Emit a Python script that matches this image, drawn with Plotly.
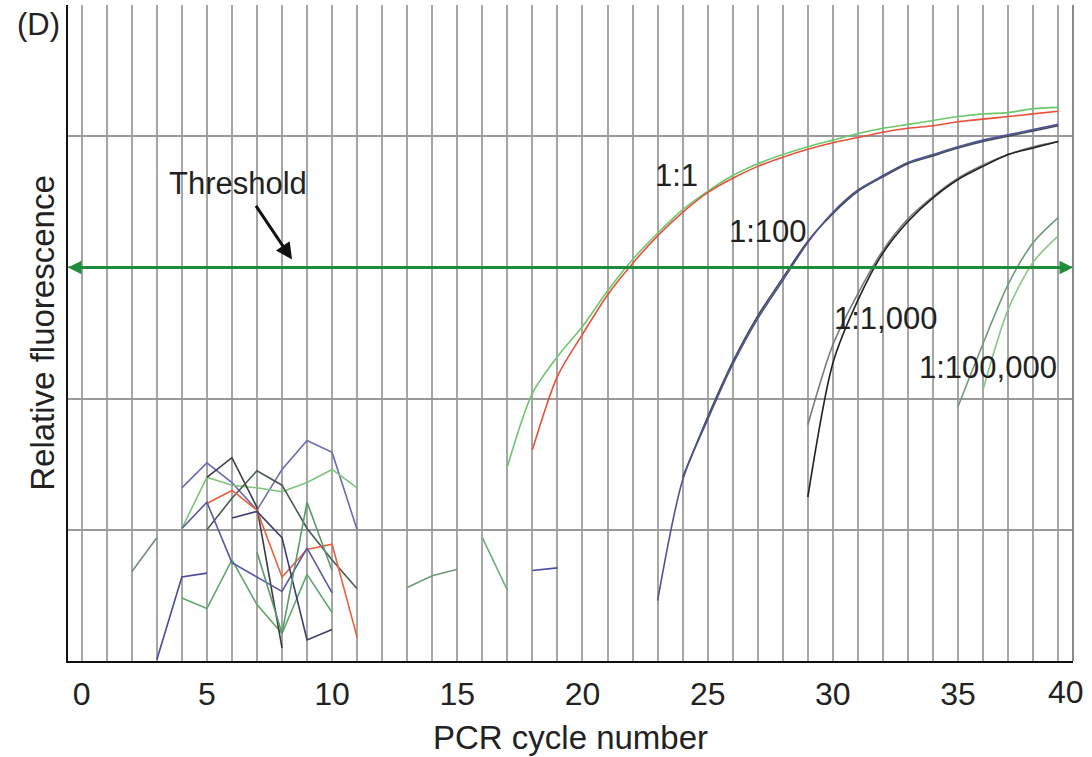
import plotly.graph_objects as go

# ---------------- data ----------------
cycles_11_g = list(range(17, 40))
rfu_11_green = [1.48, 2.04, 2.32, 2.55, 2.82, 3.06, 3.26, 3.44, 3.58, 3.70, 3.79, 3.86,
                3.92, 3.97, 4.02, 4.06, 4.09, 4.12, 4.15, 4.17, 4.18, 4.21, 4.22]
cycles_11_r = list(range(18, 40))
rfu_11_red = [1.61, 2.17, 2.49, 2.79, 3.03, 3.24, 3.42, 3.57, 3.68, 3.77, 3.84, 3.90,
              3.95, 3.99, 4.03, 4.06, 4.08, 4.11, 4.13, 4.15, 4.17, 4.19]

cycles_100_a = list(range(23, 40))
rfu_100_blue = [0.46, 1.38, 1.84, 2.26, 2.61, 2.90, 3.19, 3.42, 3.59, 3.70, 3.80, 3.86,
                3.92, 3.97, 4.01, 4.05, 4.09]
cycles_100_b = list(range(24, 40))
rfu_100_dark = [1.40, 1.86, 2.28, 2.63, 2.92, 3.20, 3.41, 3.58, 3.69, 3.79, 3.85, 3.91,
                3.96, 4.00, 4.04, 4.08]

cycles_1k = list(range(29, 40))
rfu_1k_black = [1.25, 2.27, 2.75, 3.11, 3.35, 3.53, 3.67, 3.77, 3.86, 3.91, 3.96]
rfu_1k_gray = [1.80, 2.41, 2.80, 3.13, 3.37, 3.54, 3.68, 3.78, 3.86, 3.92, 3.96]

cycles_100k_a = list(range(35, 40))
rfu_100k_a = [1.94, 2.42, 2.87, 3.19, 3.38]
cycles_100k_b = list(range(36, 40))
rfu_100k_b = [2.07, 2.68, 3.04, 3.24]

# background noise traces (cycle, value)
noise_1_x = [2, 3];                      noise_1_y = [0.68, 0.94]
noise_2_x = [3, 4, 5];                   noise_2_y = [0.01, 0.64, 0.67]
noise_3_x = [4, 5, 6, 7, 8, 9, 10];      noise_3_y = [0.48, 0.40, 0.77, 0.43, 0.21, 0.66, 0.37]
noise_4_x = [4, 5, 6, 7, 8, 9, 10, 11];  noise_4_y = [1.32, 1.51, 1.36, 1.15, 1.46, 1.68, 1.59, 1.00]
noise_5_x = [4, 5, 6, 7, 8, 9, 10, 11];  noise_5_y = [1.01, 1.40, 1.34, 1.32, 1.29, 1.36, 1.46, 1.32]
noise_6_x = [5, 6, 7, 8];                noise_6_y = [1.40, 1.55, 1.17, 0.10]
noise_7_x = [5, 6, 7, 8, 9, 10, 11];     noise_7_y = [1.00, 1.24, 1.45, 1.34, 1.01, 0.77, 0.55]
noise_8_x = [5, 6, 7, 8, 9, 10, 11];     noise_8_y = [1.20, 1.30, 1.15, 0.64, 0.85, 0.89, 0.18]
noise_9_x = [4, 5, 6, 7, 8, 9, 10];      noise_9_y = [1.01, 1.21, 0.75, 0.64, 0.53, 0.86, 0.52]
noise_10_x = [6, 7, 8, 9, 10];           noise_10_y = [1.09, 1.14, 0.94, 0.16, 0.24]
noise_11_x = [7, 8, 9, 10];              noise_11_y = [0.83, 0.21, 1.21, 0.69]
noise_12_x = [13, 14, 15];               noise_12_y = [0.56, 0.65, 0.70]
noise_13_x = [16, 17];                   noise_13_y = [0.94, 0.54]
noise_14_x = [18, 19];                   noise_14_y = [0.69, 0.71]

threshold = 3.0
x_tick_values = list(range(0, 40))
x_tick_labels = [str(v) if v % 5 == 0 else "" for v in x_tick_values]
last_tick_label = "40"

dilution_labels = ["1:1", "1:100", "1:1,000", "1:100,000"]
dilution_label_x = [23.77, 27.41, 32.12, 36.2]
dilution_label_y = [3.70, 3.27, 2.61, 2.24]

# ---------------- figure ----------------
FONT = "Liberation Sans, Arial, sans-serif"
TXT = "#222222"
fig = go.Figure()

def add_line(x, y, color, width=1.6, smooth=False):
    line = dict(color=color, width=width)
    if smooth:
        line.update(shape="spline", smoothing=0.8)
    fig.add_trace(go.Scatter(x=x, y=y, mode="lines", line=line,
                             showlegend=False, hoverinfo="skip"))

noise = [
    (noise_1_x, noise_1_y, "#6f8f7a"), (noise_2_x, noise_2_y, "#4a4aa0"),
    (noise_3_x, noise_3_y, "#5ea86a"), (noise_4_x, noise_4_y, "#6a6ab8"),
    (noise_5_x, noise_5_y, "#7cc47c"), (noise_6_x, noise_6_y, "#3c3c3c"),
    (noise_7_x, noise_7_y, "#4a5a50"), (noise_8_x, noise_8_y, "#e8603c"),
    (noise_9_x, noise_9_y, "#5858a8"), (noise_10_x, noise_10_y, "#3c3c70"),
    (noise_11_x, noise_11_y, "#5a9a68"), (noise_12_x, noise_12_y, "#6f9a7a"),
    (noise_13_x, noise_13_y, "#6fb07a"), (noise_14_x, noise_14_y, "#4a4aa0"),
]
for nx, ny, c in noise:
    add_line(nx, ny, c)

add_line(cycles_11_g, rfu_11_green, "#6cc86c", smooth=True)
add_line(cycles_11_r, rfu_11_red, "#e8503a", smooth=True)
add_line(cycles_100_b, rfu_100_dark, "#3e4e4e", smooth=True)
add_line(cycles_100_a, rfu_100_blue, "#50509a", smooth=True)
add_line(cycles_1k, rfu_1k_gray, "#7a7a72", smooth=True)
add_line(cycles_1k, rfu_1k_black, "#222222", smooth=True)
add_line(cycles_100k_a, rfu_100k_a, "#6f9a7a", smooth=True)
add_line(cycles_100k_b, rfu_100k_b, "#86c886", smooth=True)

X_RANGE = [-0.547, 39.59]
GREEN = "#1f8c3c"

annotations = []
# threshold line: two overlapping arrows, each pointing to one end of the axis
mid = (X_RANGE[0] + X_RANGE[1]) / 2
annotations.append(dict(x=X_RANGE[0], y=threshold, ax=mid + 5, ay=threshold, xref="x", yref="y",
                        axref="x", ayref="y", showarrow=True, arrowhead=2, arrowsize=0.9,
                        arrowwidth=3, arrowcolor=GREEN, text=""))
annotations.append(dict(x=X_RANGE[1], y=threshold, ax=mid - 5, ay=threshold, xref="x", yref="y",
                        axref="x", ayref="y", showarrow=True, arrowhead=2, arrowsize=0.9,
                        arrowwidth=3, arrowcolor=GREEN, text=""))
# Threshold label + black arrow
annotations.append(dict(x=6.24, y=3.64, xref="x", yref="y", text="Threshold", showarrow=False,
                        font=dict(family=FONT, size=31, color=TXT)))
annotations.append(dict(x=8.40, y=3.06, ax=6.92, ay=3.48, xref="x", yref="y", axref="x", ayref="y",
                        showarrow=True, arrowhead=2, arrowsize=1.1, arrowwidth=3,
                        arrowcolor="#111", text=""))
for lab, lx, ly in zip(dilution_labels, dilution_label_x, dilution_label_y):
    annotations.append(dict(x=lx, y=ly, xref="x", yref="y", text=lab, showarrow=False,
                            font=dict(family=FONT, size=31, color=TXT)))
annotations.append(dict(x=-0.029, y=0.97, xref="paper", yref="paper", xanchor="center",
                        yanchor="middle", text="(D)", showarrow=False,
                        font=dict(family=FONT, size=31, color=TXT)))
annotations.append(dict(x=0.993, y=0, xref="paper", yref="paper", xanchor="center", yanchor="top",
                        yshift=-11, text=last_tick_label, showarrow=False,
                        font=dict(family=FONT, size=32, color=TXT)))

fig.update_layout(
    width=1092, height=757,
    margin=dict(l=68, r=19, t=5, b=96),
    paper_bgcolor="white", plot_bgcolor="white",
    showlegend=False,
    font=dict(family=FONT, color=TXT),
    annotations=annotations,
    shapes=[dict(type="line", xref="paper", yref="paper", x0=1, x1=1, y0=0, y1=1,
                 line=dict(color="#8a8a8a", width=2))],
    xaxis=dict(range=X_RANGE, tickmode="array", tickvals=x_tick_values, ticktext=x_tick_labels,
               showgrid=True, gridcolor="#a6a6a6", gridwidth=1.5, zeroline=False,
               showline=True, linecolor="#111", linewidth=2, ticks="",
               tickfont=dict(family=FONT, size=32, color=TXT), ticklabelstandoff=4,
               title=dict(text="PCR cycle number", font=dict(family=FONT, size=33, color=TXT),
                          standoff=14),
               automargin=False),
    yaxis=dict(range=[0, 5], dtick=1, showgrid=True, gridcolor="#9a9a9a", gridwidth=1.5,
               zeroline=False, showline=True, linecolor="#111", linewidth=2, ticks="",
               showticklabels=False,
               title=dict(text="Relative fluorescence", font=dict(family=FONT, size=33, color=TXT),
                          standoff=1),
               automargin=False),
)

fig.write_html("out.html")
